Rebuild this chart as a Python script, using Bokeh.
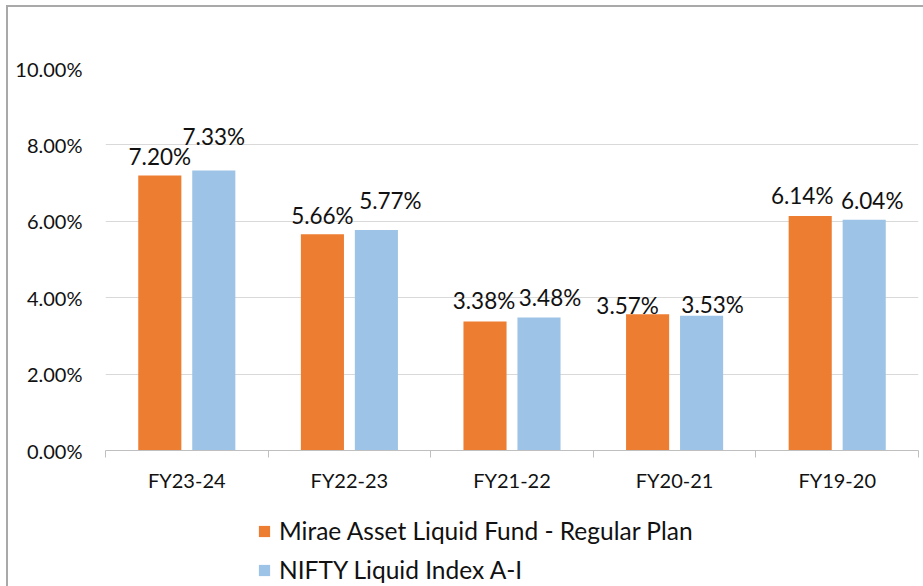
from bokeh.plotting import figure
from bokeh.layouts import column
from bokeh.models import ColumnDataSource, Range1d, FixedTicker, PrintfTickFormatter, Legend, LegendItem
from bokeh.core.properties import value
from bokeh.embed import file_html
from bokeh.resources import INLINE
import numpy as np

# ---- data ----
categories = ["FY23-24", "FY22-23", "FY21-22", "FY20-21", "FY19-20"]
fund_returns = [7.20, 5.66, 3.38, 3.57, 6.14]
index_returns = [7.33, 5.77, 3.48, 3.53, 6.04]
series_names = ["Mirae Asset Liquid Fund - Regular Plan", "NIFTY Liquid Index A-I"]
y_ticks = [0, 2, 4, 6, 8, 10]

# ---- label nudges (pixels, style only) ----
fund_label_dx = [0, 0, -1, -20, -8]
fund_label_gap = [19, 19, 21, 9, 20]
index_label_dx = [0, 14, 11, 11, 8]
index_label_gap = [34, 30, 20, 11, 19]

ORANGE = "#ED7D31"
BLUE = "#9DC3E6"
FONT = "Lato"
TXT = "#111111"
GRID = "#d9d9d9"
AXIS = "#bfbfbf"
FRAME = "#a9a9a9"

W = 923
H_CHART = 500
H_LEGEND = 86

n = len(categories)
centers = np.arange(n) + 0.5
shift = 0.166
bar_w = 0.265

fund_src = ColumnDataSource(dict(
    x=centers - shift, top=fund_returns,
    label=[f"{v:.2f}%" for v in fund_returns],
    dx=fund_label_dx, dy=[-g for g in fund_label_gap]))
index_src = ColumnDataSource(dict(
    x=centers + shift, top=index_returns,
    label=[f"{v:.2f}%" for v in index_returns],
    dx=index_label_dx, dy=[-g for g in index_label_gap]))

p = figure(width=W, height=H_CHART,
           x_range=Range1d(0, n), y_range=Range1d(0, y_ticks[-1]),
           output_backend="svg", toolbar_location=None,
           min_border_left=105, min_border_right=5,
           min_border_top=68, min_border_bottom=H_CHART - 450)
p.outline_line_color = None
p.background_fill_color = "white"
p.border_fill_color = None
p.styles = {
    "background": (f"linear-gradient({FRAME},{FRAME}) 6px 5px / 2px 100% no-repeat, "
                   f"linear-gradient({FRAME},{FRAME}) 6px 5px / 100% 2px no-repeat, white"),
}

p.vbar(x="x", top="top", width=bar_w, source=fund_src,
       fill_color=ORANGE, line_color=None)
p.vbar(x="x", top="top", width=bar_w, source=index_src,
       fill_color=BLUE, line_color=None)

for src in (fund_src, index_src):
    p.text(x="x", y="top", text="label", source=src,
           x_offset="dx", y_offset="dy",
           text_align="center", text_baseline="alphabetic",
           text_font=value(FONT), text_font_size="22.5px",
           text_color=TXT)

# x axis: labels at category centres, ticks at boundaries
xa = p.xaxis[0]
xa.ticker = FixedTicker(ticks=list(centers), minor_ticks=list(range(n + 1)))
xa.major_label_overrides = {float(c): name for c, name in zip(centers, categories)}
xa.major_tick_line_color = None
xa.major_tick_in = 0
xa.major_tick_out = 0
xa.minor_tick_in = 0
xa.minor_tick_out = 7
xa.minor_tick_line_color = AXIS
xa.axis_line_color = AXIS
xa.major_label_text_font = FONT
xa.major_label_text_font_size = "20px"
xa.major_label_text_color = TXT
xa.major_label_standoff = 10

ya = p.yaxis[0]
ya.ticker = FixedTicker(ticks=y_ticks, minor_ticks=[])
ya.formatter = PrintfTickFormatter(format="%.2f%%")
ya.axis_line_color = None
ya.major_tick_line_color = None
ya.minor_tick_line_color = None
ya.major_tick_in = 0
ya.major_tick_out = 0
ya.major_label_standoff = 23
ya.major_label_text_font = FONT
ya.major_label_text_font_size = "20px"
ya.major_label_text_color = TXT

p.xgrid.grid_line_color = None
p.ygrid.ticker = FixedTicker(ticks=y_ticks)
p.ygrid.grid_line_color = GRID
p.ygrid.grid_line_width = 1

# ---- legend strip (separate figure so it is not clipped by the chart frame) ----
# its y range is far above the data, so the bars themselves stay out of view
lg = figure(width=W, height=H_LEGEND, x_range=Range1d(0, n), y_range=Range1d(100, 101),
            output_backend="svg", toolbar_location=None,
            x_axis_type=None, y_axis_type=None,
            min_border_left=0, min_border_right=0, min_border_top=0, min_border_bottom=0)
lg.outline_line_color = None
lg.background_fill_color = None
lg.border_fill_color = None
lg.grid.visible = False
lg.styles = {
    "background": f"linear-gradient({FRAME},{FRAME}) 6px 0px / 2px 100% no-repeat, white",
}
k1 = lg.vbar(x="x", top="top", width=bar_w, source=fund_src,
             fill_color=ORANGE, line_color=None)
k2 = lg.vbar(x="x", top="top", width=bar_w, source=index_src,
             fill_color=BLUE, line_color=None)

legend = Legend(items=[LegendItem(label=series_names[0], renderers=[k1], index=0),
                       LegendItem(label=series_names[1], renderers=[k2], index=0)],
                location=(152, 2), orientation="vertical",
                glyph_width=14, glyph_height=14, label_standoff=8,
                spacing=10, padding=0, margin=0,
                border_line_color=None, background_fill_alpha=0,
                label_text_font=FONT, label_text_font_size="24.5px",
                label_text_color=TXT)
lg.add_layout(legend)

layout = column(p, lg, spacing=0)
open("out.html", "w").write(file_html(layout, INLINE))
